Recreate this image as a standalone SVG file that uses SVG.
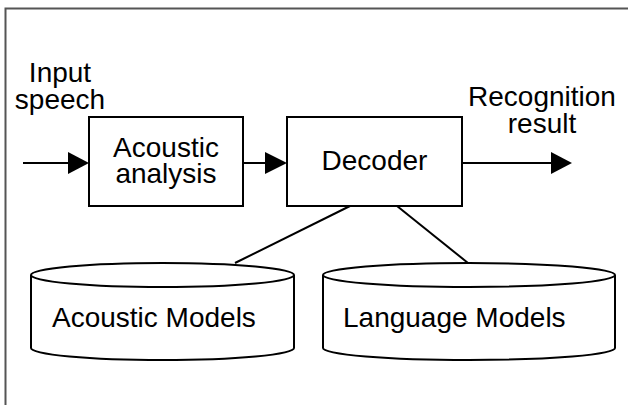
<svg xmlns="http://www.w3.org/2000/svg" width="628" height="405" viewBox="0 0 628 405">
<style>
.t{font-family:"Liberation Sans",Arial,sans-serif;font-size:28px;fill:#000}
.m{text-anchor:middle}
.box{fill:#fff;stroke:#000;stroke-width:2}
.ln{fill:none;stroke:#000;stroke-width:2}
.ah{fill:#000}
</style>
<rect width="628" height="405" fill="#fff"/>
<path d="M5.5,405 V8.5 H628" fill="none" stroke="#555" stroke-width="2"/>
<g id="labels">
<text class="t m" x="60" y="82">Input</text>
<text class="t m" x="60" y="109">speech</text>
<text class="t m" x="542" y="106">Recognition</text>
<text class="t m" x="542" y="133">result</text>
</g>
<g id="connectors">
<line class="ln" x1="23" y1="163" x2="70" y2="163"/>
<polygon class="ah" points="68,152 89,163 68,174"/>
<line class="ln" x1="243" y1="163" x2="267" y2="163"/>
<polygon class="ah" points="265,152 287,163 265,174"/>
<line class="ln" x1="462" y1="163" x2="553" y2="163"/>
<polygon class="ah" points="551,152 572,163 551,174"/>
<line class="ln" x1="350" y1="206" x2="235" y2="263"/>
<line class="ln" x1="397" y1="206" x2="468" y2="263"/>
</g>
<g id="acoustic-analysis">
<rect class="box" x="89" y="117" width="154" height="89"/>
<text class="t m" x="166" y="157">Acoustic</text>
<text class="t m" x="166" y="183">analysis</text>
</g>
<g id="decoder">
<rect class="box" x="287" y="117" width="175" height="89"/>
<text class="t m" x="374.5" y="170">Decoder</text>
</g>
<g id="acoustic-models">
<path class="box" d="M31,275 V348 A131.5,12 0 0 0 294,348 V275"/>
<ellipse class="box" cx="162.5" cy="275" rx="131.5" ry="12"/>
<text class="t" x="52" y="327">Acoustic Models</text>
</g>
<g id="language-models">
<path class="box" d="M323,275 V348 A146,12 0 0 0 615,348 V275"/>
<ellipse class="box" cx="469" cy="275" rx="146" ry="12"/>
<text class="t" x="343" y="327">Language Models</text>
</g>
</svg>
